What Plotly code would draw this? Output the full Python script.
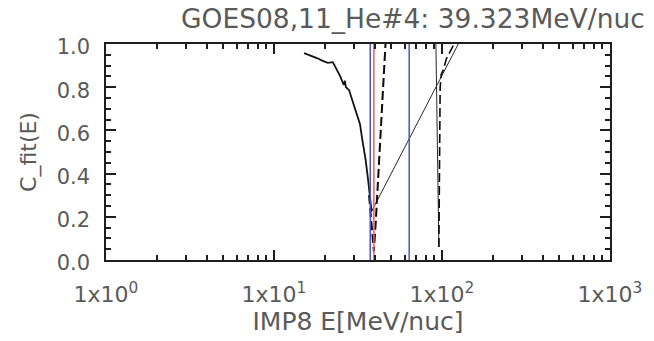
import plotly.graph_objects as go

# ---- data ----
left_E = [15.1, 16.5, 18.0, 19.5, 20.9, 22.4, 23.5, 24.8, 26.0, 26.4, 26.8, 28.0, 29.5, 31.4, 32.5, 33.5, 35.1, 36.2, 37.0, 37.6, 38.1]
left_C = [0.958, 0.948, 0.935, 0.922, 0.913, 0.916, 0.885, 0.850, 0.810, 0.830, 0.800, 0.786, 0.730, 0.659, 0.629, 0.560, 0.465, 0.380, 0.300, 0.240, 0.225]

link_E = [38.1, 125.0]
link_C = [0.225, 1.0]

dash_E = [36.8, 37.8, 38.6, 39.3, 40.3, 42.3, 44.3, 46.1]
dash_C = [0.30, 0.20, 0.10, 0.04, 0.17, 0.465, 0.764, 1.0]

right_E = [92.0, 92.8, 93.9, 95.0, 95.8]
right_C = [1.0, 0.80, 0.55, 0.30, 0.06]

rdash_E = [95.8, 96.2, 96.8, 97.5, 99.0, 101.9, 106.0, 112.0, 118.0]
rdash_C = [0.06, 0.25, 0.55, 0.80, 0.86, 0.88, 0.93, 0.97, 1.0]

vline_E = [37.4, 39.323, 63.8]
vline_col = ["rgb(80,80,200)", "rgb(245,90,90)", "rgb(80,80,200)"]

x_tickvals = [1, 10, 100, 1000]
x_ticktext = ["1x10<sup>0</sup>", "1x10<sup>1</sup>", "1x10<sup>2</sup>", "1x10<sup>3</sup>"]
y_tickvals = [0.0, 0.2, 0.4, 0.6, 0.8, 1.0]
y_ticktext = ["0.0", "0.2", "0.4", "0.6", "0.8", "1.0"]

title_text = "GOES08,11_He#4: 39.323MeV/nuc"
x_title = "IMP8 E[MeV/nuc]"
y_title = "C_fit(E)"

TXT = "rgb(90,90,90)"
TICK = "rgb(30,30,30)"

fig = go.Figure()
fig.add_trace(go.Scatter(x=left_E, y=left_C, mode="lines",
                         line=dict(color="rgb(20,20,20)", width=1.8)))
fig.add_trace(go.Scatter(x=link_E, y=link_C, mode="lines",
                         line=dict(color="rgb(40,40,40)", width=1)))
fig.add_trace(go.Scatter(x=dash_E, y=dash_C, mode="lines",
                         line=dict(color="rgb(10,10,10)", width=2, dash="9px,4px")))
fig.add_trace(go.Scatter(x=right_E, y=right_C, mode="lines",
                         line=dict(color="rgb(40,40,40)", width=1)))
fig.add_trace(go.Scatter(x=rdash_E, y=rdash_C, mode="lines",
                         line=dict(color="rgb(10,10,10)", width=1.6, dash="9px,4px")))
for e, c in zip(vline_E, vline_col):
    fig.add_trace(go.Scatter(x=[e, e], y=[0, 1], mode="lines",
                             line=dict(color=c, width=1.5)))

axis_font = dict(family="DejaVu Sans", size=21, color=TXT)

fig.update_layout(
    width=654, height=341,
    margin=dict(l=106, r=39, t=44, b=74),
    paper_bgcolor="white", plot_bgcolor="white",
    showlegend=False,
    title=dict(text=title_text, x=181 / 654, xanchor="left", xref="container",
               y=1 - 19 / 341, yanchor="middle", yref="container",
               font=dict(family="DejaVu Sans", size=26.5, color=TXT)),
    font=axis_font,
)
fig.update_xaxes(
    type="log", range=[0, 3],
    tickvals=x_tickvals, ticktext=x_ticktext,
    ticks="inside", ticklen=10, tickwidth=1.5, tickcolor=TICK,
    minor=dict(ticks="inside", ticklen=5, tickwidth=1.5, tickcolor=TICK, dtick="D1", showgrid=False),
    showline=True, linecolor=TICK, linewidth=1.5, mirror="allticks",
    showgrid=False, zeroline=False, layer="above traces",
    tickfont=dict(family="DejaVu Sans", size=22, color=TXT),
    ticklabelstandoff=14,
    title=dict(text=x_title, font=dict(family="DejaVu Sans", size=25, color=TXT), standoff=4),
)
fig.update_yaxes(
    range=[0, 1],
    tickvals=y_tickvals, ticktext=y_ticktext,
    ticks="inside", ticklen=10, tickwidth=1.5, tickcolor=TICK,
    minor=dict(dtick=0.05, ticks="inside", ticklen=5, tickwidth=1.5, tickcolor=TICK, showgrid=False),
    showline=True, linecolor=TICK, linewidth=1.5, mirror="allticks",
    showgrid=False, zeroline=False, layer="above traces",
    tickfont=axis_font,
    ticklabelstandoff=10, ticklabelshift=3,
    title=dict(text=y_title, font=dict(family="DejaVu Sans", size=22, color=TXT), standoff=14),
)

fig.write_html("out.html")
